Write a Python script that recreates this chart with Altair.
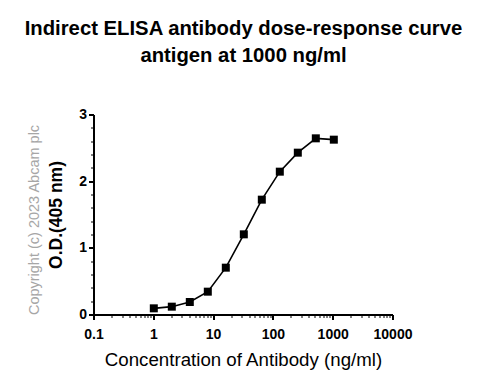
import altair as alt
import pandas as pd

conc = [1, 2, 4, 8, 16, 32, 64, 128, 256, 512, 1024]
od = [0.10, 0.125, 0.195, 0.35, 0.71, 1.21, 1.73, 2.15, 2.435, 2.65, 2.63]

x_major = [0.1, 1, 10, 100, 1000, 10000]
x_minor = [round(m * d, 6) for d in [0.1, 1, 10, 100, 1000] for m in range(2, 10)]
y_major = [0, 1, 2, 3]
y_minor = [0.2, 0.4, 0.6, 0.8, 1.2, 1.4, 1.6, 1.8, 2.2, 2.4, 2.6, 2.8]

title_lines = ["Indirect ELISA antibody dose-response curve", "antigen at 1000 ng/ml"]
x_title = "Concentration of Antibody (ng/ml)"
y_title = "O.D.(405 nm)"
copyright_text = ["Copyright (c) 2023 Abcam plc"]

df = pd.DataFrame({"conc": conc, "od": od})

xscale = alt.Scale(type="log", domain=[0.1, 10000], nice=False)
yscale = alt.Scale(domain=[0, 3], nice=False, zero=False)

x_major_test = "abs(log(datum.value)/LN10 - round(log(datum.value)/LN10)) < 1e-6"
y_major_test = "abs(datum.value - round(datum.value)) < 1e-6"

x_axis = alt.Axis(
    values=x_major + x_minor, orient="bottom", translate=0,
    labelExpr="(" + x_major_test + ") ? (datum.value >= 1 ? format(datum.value, 'd') : format(datum.value, '.1f')) : ''",
    grid=False, domain=True, domainColor="black", domainWidth=2,
    ticks=True, tickColor="black",
    tickWidth={"condition": {"test": x_major_test, "value": 2}, "value": 1},
    tickSize={"condition": {"test": x_major_test, "value": 5}, "value": 3},
    labelFont="Liberation Sans", labelFontSize=14, labelFontWeight="bold", labelColor="black", labelPadding=8,
    labelFlush=False, labelOverlap=False,
    title=x_title, titleFont="Liberation Sans", titleFontSize=18.7, titleFontWeight="normal", titleColor="black",
    titleX=149.5, titleY=45, titleBaseline="middle", titleAlign="center",
)
y_axis = alt.Axis(
    values=y_major + y_minor, orient="left", translate=0,
    labelExpr="(" + y_major_test + ") ? format(datum.value, 'd') : ''",
    grid=False, domain=True, domainColor="black", domainWidth=2,
    ticks=True, tickColor="black",
    tickWidth={"condition": {"test": y_major_test, "value": 2}, "value": 1},
    tickSize={"condition": {"test": y_major_test, "value": 5}, "value": 3},
    labelFont="Liberation Sans", labelFontSize=14, labelFontWeight="bold", labelColor="black", labelPadding=2,
    labelFlush=False, labelOverlap=False,
    title=y_title, titleFont="Liberation Sans", titleFontSize=17.5, titleFontWeight="bold", titleColor="black",
    titleX=-37, titleY=100, titleAngle=270, titleBaseline="middle", titleAlign="center",
)

base = alt.Chart(df).encode(
    x=alt.X("conc:Q", scale=xscale, axis=x_axis),
    y=alt.Y("od:Q", scale=yscale, axis=y_axis),
)

line = base.mark_line(color="black", strokeWidth=1.6)
points = base.mark_square(color="black", opacity=1, size=64)

copy_df = pd.DataFrame({"t": copyright_text})
copy = alt.Chart(copy_df).mark_text(
    angle=270, align="center", baseline="middle", font="Liberation Sans", fontSize=14.5, color="#a6a6a6"
).encode(text="t:N", x=alt.value(-59), y=alt.value(105))

chart = alt.layer(line, points, copy).properties(
    width=299, height=200,
    background="white",
    autosize=alt.AutoSizeParams(type="none"),
    padding={"left": 86, "top": 107, "right": 86, "bottom": 63},
    title=alt.TitleParams(text=title_lines, font="Liberation Sans", fontSize=20.3, fontWeight="bold",
                          color="black", anchor="middle", lineHeight=27, offset=42),
).configure_view(strokeWidth=0, stroke="transparent")

chart.save("out.html", embed_options={"renderer": "svg", "actions": False})
